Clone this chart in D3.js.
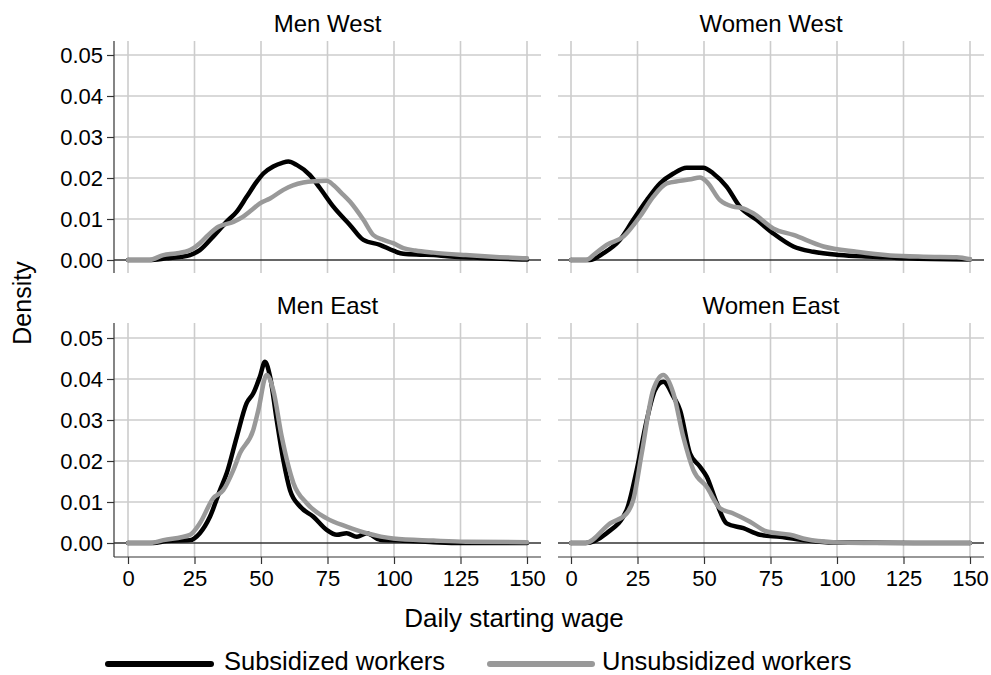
<!DOCTYPE html>
<html>
<head>
<meta charset="utf-8">
<script src="https://cdn.jsdelivr.net/npm/d3@7"></script>
<style>
  html, body { margin: 0; padding: 0; background: #fff; }
  svg { display: block; font-family: "Liberation Sans", Arial, Helvetica, sans-serif; }
</style>
</head>
<body>
<svg id="chart" width="991" height="675"></svg>
<script>
// ---------- DATA ----------
const panelTitles = ["Men West", "Women West", "Men East", "Women East"];
const seriesNames = ["Subsidized workers", "Unsubsidized workers"];
const xTicks = [0, 25, 50, 75, 100, 125, 150];
const yTicks = [0.00, 0.01, 0.02, 0.03, 0.04, 0.05];
const yTickLabels = ["0.00", "0.01", "0.02", "0.03", "0.04", "0.05"];

// Men West
const menWestSubX = [0, 8, 14.5, 20, 23.3, 27, 32, 37, 40.9, 44.6, 48.4, 50.9, 54.6, 58, 60.3, 63.4, 68.4, 72.2, 77.2, 83.5, 88.5, 94.7, 100, 103.5, 110, 115, 120, 130, 140, 150];
const menWestSubY = [0, 0, 0.0004, 0.0008, 0.0012, 0.0024, 0.0057, 0.0093, 0.0118, 0.0154, 0.0191, 0.0211, 0.0228, 0.0237, 0.0240, 0.0232, 0.0207, 0.0175, 0.0130, 0.0085, 0.0049, 0.0037, 0.0022, 0.0015, 0.0013, 0.0012, 0.0009, 0.0006, 0.0003, 0.0001];
const menWestUnsX = [0, 8, 13.3, 18, 23.3, 27, 30, 34, 39.6, 43.3, 46.5, 49.6, 53.4, 58.4, 62, 65.9, 70, 74.7, 77.2, 80, 83.5, 88.5, 92.2, 96, 99.7, 103.5, 108, 114.8, 127, 139.7, 150];
const menWestUnsY = [0, 0, 0.0012, 0.0016, 0.0024, 0.0041, 0.0060, 0.0081, 0.0093, 0.0106, 0.0122, 0.0138, 0.0150, 0.0171, 0.0182, 0.0189, 0.0192, 0.0193, 0.0183, 0.0165, 0.0142, 0.0098, 0.0061, 0.0049, 0.0041, 0.0029, 0.0023, 0.0018, 0.0012, 0.0007, 0.0004];

// Women West
const womenWestSubX = [0, 7, 12.1, 18.4, 23.4, 28.5, 33.5, 38.5, 43.5, 49.7, 53.5, 58.5, 63.5, 69.8, 76, 83.6, 91.1, 101, 113.6, 126, 150];
const womenWestSubY = [0, 0, 0.0016, 0.0049, 0.0098, 0.0146, 0.0187, 0.0211, 0.0225, 0.0225, 0.0211, 0.0179, 0.0130, 0.0098, 0.0065, 0.0033, 0.0020, 0.0012, 0.0008, 0.0004, 0.0001];
const womenWestUnsX = [0, 5.6, 9, 13.4, 19.7, 25.9, 30.9, 36, 41, 45, 48.5, 51, 56, 61, 64, 68.5, 76, 83.6, 94.9, 107.4, 120, 132.5, 145, 150];
const womenWestUnsY = [0, 0, 0.0015, 0.0037, 0.0057, 0.0106, 0.0154, 0.0187, 0.0193, 0.0197, 0.0201, 0.0191, 0.0146, 0.0130, 0.0127, 0.0114, 0.0077, 0.0061, 0.0033, 0.0020, 0.0011, 0.0008, 0.0007, 0.0002];

// Men East
const menEastSubX = [0, 9.5, 14.5, 23.3, 27, 30.8, 34.6, 37.1, 40.9, 44.6, 47.1, 49.6, 51.5, 53.4, 55.9, 58.4, 60.9, 64.7, 69.7, 74.7, 78.5, 82.2, 86, 89.7, 94.7, 102.2, 114.8, 125, 150];
const menEastSubY = [0, 0, 0.0005, 0.0007, 0.0024, 0.0064, 0.0129, 0.0170, 0.0259, 0.0341, 0.0365, 0.0406, 0.0442, 0.0406, 0.0300, 0.0202, 0.0129, 0.0089, 0.0064, 0.0032, 0.0020, 0.0024, 0.0015, 0.0024, 0.0008, 0.0006, 0.0002, 0, 0];
const menEastUnsX = [0, 8, 13.3, 23.3, 27, 32, 35.8, 39.6, 42.1, 47.1, 49, 52.1, 54.6, 57.8, 62.2, 67.2, 74.7, 82.2, 89.7, 99.7, 114.8, 127, 150];
const menEastUnsY = [0, 0, 0.0007, 0.0020, 0.0048, 0.0109, 0.0129, 0.0178, 0.0219, 0.0276, 0.0324, 0.0410, 0.0373, 0.0259, 0.0146, 0.0097, 0.0060, 0.0040, 0.0024, 0.0011, 0.0006, 0.0003, 0.0002];

// Women East
const womenEastSubX = [0, 5.5, 13.4, 20.9, 24.7, 28.5, 31.6, 34.7, 38.5, 41, 44.7, 48.5, 51, 54.8, 58.5, 64.8, 71, 78.6, 88.6, 98.6, 150];
const womenEastSubY = [0, 0, 0.0024, 0.0080, 0.0178, 0.0300, 0.0373, 0.0393, 0.0357, 0.0324, 0.0219, 0.0186, 0.0162, 0.0097, 0.0048, 0.0036, 0.0020, 0.0015, 0.0006, 0.0001, 0];
const womenEastUnsX = [0, 5.5, 14.7, 20.9, 23.4, 26.6, 30.9, 34.7, 38.5, 42.2, 46, 51, 56, 61, 67.3, 73.6, 82.3, 88.6, 98.6, 110, 150];
const womenEastUnsY = [0, 0, 0.0048, 0.0072, 0.0105, 0.0219, 0.0373, 0.0410, 0.0365, 0.0259, 0.0178, 0.0137, 0.0085, 0.0072, 0.0052, 0.0028, 0.0020, 0.0009, 0.0002, 0, 0];

// ---------- LAYOUT ----------
const svg = d3.select("#chart");
const FONT_TICK = 22;
const colors = ["#000000", "#999999"];

const panels = [
  {title: panelTitles[0], col: 0, row: 0, sub: [menWestSubX, menWestSubY], uns: [menWestUnsX, menWestUnsY]},
  {title: panelTitles[1], col: 1, row: 0, sub: [womenWestSubX, womenWestSubY], uns: [womenWestUnsX, womenWestUnsY]},
  {title: panelTitles[2], col: 0, row: 1, sub: [menEastSubX, menEastSubY], uns: [menEastUnsX, menEastUnsY]},
  {title: panelTitles[3], col: 1, row: 1, sub: [womenEastSubX, womenEastSubY], uns: [womenEastUnsX, womenEastUnsY]}
];

const colFrame = [[114, 541], [558, 984]];
const colRange = [[128, 527], [571, 970]];
const rowFrame = [[41, 273], [323, 557]];
const rowRange = [[260, 55], [543, 338]];

panels.forEach(p => {
  const x = d3.scaleLinear().domain([0, 150]).range(colRange[p.col]);
  const y = d3.scaleLinear().domain([0, 0.05]).range(rowRange[p.row]);
  const [fx0, fx1] = colFrame[p.col];
  const [fy0, fy1] = rowFrame[p.row];
  const g = svg.append("g");

  g.selectAll(".vg").data(xTicks).enter().append("line")
    .attr("x1", d => x(d)).attr("x2", d => x(d))
    .attr("y1", fy0).attr("y2", fy1)
    .attr("stroke", "#cccccc").attr("stroke-width", 1.6);
  g.selectAll(".hg").data(yTicks.filter(d => d > 0)).enter().append("line")
    .attr("x1", fx0).attr("x2", fx1)
    .attr("y1", d => y(d)).attr("y2", d => y(d))
    .attr("stroke", "#cccccc").attr("stroke-width", 1.6);
  g.append("line")
    .attr("x1", fx0).attr("x2", fx1)
    .attr("y1", y(0)).attr("y2", y(0))
    .attr("stroke", "#333333").attr("stroke-width", 1.5);

  if (p.col === 0) {
    g.append("line").attr("x1", fx0).attr("x2", fx0).attr("y1", fy0).attr("y2", fy1)
      .attr("stroke", "#333333").attr("stroke-width", 1.2);
    const ya = d3.axisLeft(y).tickValues(yTicks).tickFormat((d, i) => yTickLabels[i]).tickSize(7).tickPadding(4);
    const yg = svg.append("g").attr("transform", `translate(${fx0},0)`).call(ya);
    yg.select(".domain").remove();
    yg.selectAll("line").attr("stroke", "#333333").attr("stroke-width", 1.2);
    yg.selectAll("text").attr("font-size", FONT_TICK).attr("fill", "#000")
      .attr("font-family", '"Liberation Sans", Arial, sans-serif');
  }
  if (p.row === 1) {
    g.append("line").attr("x1", fx0).attr("x2", fx1).attr("y1", fy1).attr("y2", fy1)
      .attr("stroke", "#333333").attr("stroke-width", 1.2);
    const xa = d3.axisBottom(x).tickValues(xTicks).tickFormat(d3.format("d")).tickSize(7).tickPadding(6);
    const xg = svg.append("g").attr("transform", `translate(0,${fy1})`).call(xa);
    xg.select(".domain").remove();
    xg.selectAll("line").attr("stroke", "#333333").attr("stroke-width", 1.2);
    xg.selectAll("text").attr("font-size", FONT_TICK).attr("fill", "#000")
      .attr("font-family", '"Liberation Sans", Arial, sans-serif');
  }

  svg.append("text").attr("x", (fx0 + fx1) / 2).attr("y", fy0 - 9)
    .attr("text-anchor", "middle").attr("font-size", 24).attr("fill", "#000")
    .text(p.title);

  const line = d3.line().x(d => x(d[0])).y(d => y(d[1])).curve(d3.curveMonotoneX);
  [p.sub, p.uns].forEach((s, i) => {
    const pts = s[0].map((xv, k) => [xv, s[1][k]]);
    g.append("path").datum(pts).attr("d", line)
      .attr("fill", "none").attr("stroke", colors[i]).attr("stroke-width", 4.5)
      .attr("stroke-linejoin", "round").attr("stroke-linecap", "round");
  });
});

svg.append("text").attr("x", 514).attr("y", 627).attr("text-anchor", "middle")
  .attr("font-size", 26).attr("fill", "#000").text("Daily starting wage");
svg.append("text").attr("transform", "translate(31,303) rotate(-90)").attr("text-anchor", "middle")
  .attr("font-size", 25).attr("fill", "#000").text("Density");

const legend = [
  {x1: 108, x2: 211, tx: 224},
  {x1: 490, x2: 592, tx: 602}
];
legend.forEach((l, i) => {
  svg.append("line").attr("x1", l.x1).attr("x2", l.x2).attr("y1", 664).attr("y2", 664)
    .attr("stroke", colors[i]).attr("stroke-width", 6).attr("stroke-linecap", "round");
  svg.append("text").attr("x", l.tx).attr("y", 670).attr("font-size", 25.5).attr("fill", "#000")
    .text(seriesNames[i]);
});
</script>
</body>
</html>
